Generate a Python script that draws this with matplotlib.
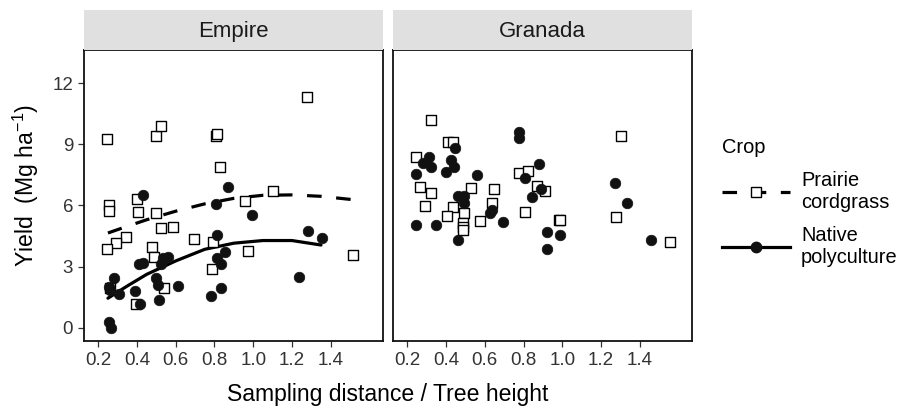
import matplotlib
matplotlib.use("Agg")
import matplotlib.pyplot as plt
from matplotlib.lines import Line2D

plt.rcParams['font.family'] = ['Liberation Sans', 'DejaVu Sans']
plt.rcParams['mathtext.fontset'] = 'custom'
plt.rcParams['mathtext.rm'] = 'Liberation Sans'
plt.rcParams['mathtext.it'] = 'Liberation Sans:italic'
plt.rcParams['lines.scale_dashes'] = False

# Empire - Prairie cordgrass (squares)
emp_pc_x = [0.246, 0.496, 0.522, 0.809, 0.814, 1.277, 0.828, 1.10, 0.959, 0.402,
            0.257, 0.257, 0.403, 0.50, 0.522, 0.587, 0.345, 0.292, 0.247, 0.478,
            0.486, 0.694, 0.79, 0.787, 0.974, 1.517, 0.541, 0.393, 0.26]
emp_pc_y = [9.27, 9.42, 9.91, 9.41, 9.53, 11.32, 7.88, 6.70, 6.24, 6.33,
            6.03, 5.73, 5.67, 5.62, 4.89, 4.94, 4.47, 4.14, 3.86, 3.98,
            3.45, 4.36, 4.20, 2.87, 3.77, 3.58, 1.97, 1.17, 1.93]
# Empire - Native polyculture (circles)
emp_np_x = [0.432, 0.868, 0.809, 0.995, 0.811, 1.281, 1.355, 0.854, 0.813, 0.836,
            1.238, 0.835, 0.782, 0.613, 0.513, 0.415, 0.390, 0.408, 0.430, 0.532,
            0.561, 0.525, 0.497, 0.510, 0.279, 0.254, 0.26, 0.307, 0.254, 0.264]
emp_np_y = [6.51, 6.91, 6.05, 5.52, 4.57, 4.77, 4.39, 3.72, 3.43, 3.12,
            2.51, 1.96, 1.57, 2.03, 1.37, 1.16, 1.80, 3.13, 3.18, 3.42,
            3.47, 3.15, 2.44, 2.10, 2.45, 2.00, 1.85, 1.64, 0.30, 0.00]

# Granada - Prairie cordgrass
gra_pc_x = [0.325, 0.411, 0.435, 1.301, 0.246, 0.774, 0.822, 0.869, 0.908, 0.265,
            0.321, 0.527, 0.649, 0.289, 0.437, 0.491, 0.406, 0.637, 0.807, 0.573,
            0.490, 0.490, 0.490, 0.983, 0.988, 1.277, 1.556]
gra_pc_y = [10.20, 9.10, 9.10, 9.43, 8.37, 7.58, 7.69, 6.97, 6.73, 6.91,
            6.61, 6.87, 6.81, 5.96, 5.93, 5.65, 5.48, 6.12, 5.68, 5.24,
            5.13, 4.96, 4.80, 5.27, 5.27, 5.45, 4.22]
# Granada - Native polyculture
gra_np_x = [0.774, 0.774, 0.447, 0.311, 0.282, 0.320, 0.246, 0.426, 0.443, 0.402,
            0.877, 0.562, 0.805, 1.271, 0.889, 0.845, 1.335, 0.462, 0.493, 0.491,
            0.637, 0.625, 0.692, 0.246, 0.347, 0.462, 0.922, 0.987, 0.922, 1.458]
gra_np_y = [9.59, 9.30, 8.82, 8.36, 8.10, 7.87, 7.56, 8.22, 7.90, 7.64,
            8.04, 7.48, 7.37, 7.10, 6.79, 6.43, 6.12, 6.48, 6.47, 6.14,
            5.78, 5.62, 5.17, 5.06, 5.03, 4.29, 4.71, 4.54, 3.85, 4.32]

# fitted curves (Empire only)
fit_pc_x = [0.25, 0.35, 0.45, 0.6, 0.75, 0.9, 1.05, 1.2, 1.35, 1.52]
fit_pc_y = [4.65, 4.98, 5.30, 5.72, 6.08, 6.35, 6.50, 6.52, 6.45, 6.28]
fit_np_x = [0.25, 0.35, 0.45, 0.6, 0.75, 0.9, 1.05, 1.2, 1.35]
fit_np_y = [1.45, 2.05, 2.62, 3.28, 3.85, 4.15, 4.28, 4.28, 4.06]

panels = ['Empire', 'Granada']
xticks = [0.2, 0.4, 0.6, 0.8, 1.0, 1.2, 1.4]
yticks = [0, 3, 6, 9, 12]

W, H = 913, 412
fig = plt.figure(figsize=(W / 100, H / 100), dpi=100)

dash = (0, (10.5, 10.5))
lw = 2.3

def panel(left, right, name, sq_x, sq_y, ci_x, ci_y, fits):
    ax = fig.add_axes([left / W, (H - 341) / H, (right - left) / W, 291 / H])
    if fits:
        ax.plot(fit_pc_x, fit_pc_y, color='black', lw=lw, ls=dash, solid_capstyle='butt')
        ax.plot(fit_np_x, fit_np_y, color='black', lw=lw, solid_capstyle='round')
    ax.scatter(sq_x, sq_y, marker='s', s=50, facecolor='white', edgecolor='black',
               linewidth=1.0, zorder=3)
    ax.scatter(ci_x, ci_y, marker='o', s=58, facecolor='#111111', edgecolor='#111111',
               linewidth=0.5, zorder=4)
    ax.set_xlim(0.128, 1.67)
    ax.set_ylim(-0.65, 13.63)
    ax.set_xticks(xticks)
    ax.set_xticklabels(['%.1f' % v for v in xticks])
    ax.set_yticks(yticks)
    for s in ax.spines.values():
        s.set_linewidth(1.3)
        s.set_color('#111111')
    ax.tick_params(direction='out', length=4, width=0.9, color='#333333',
                   labelsize=13.5, labelcolor='#333333', pad=4)
    # strip
    st = fig.add_axes([left / W, (H - 49.5) / H, (right - left) / W, 39.5 / H])
    st.set_facecolor('#e0e0e0')
    st.set_xticks([])
    st.set_yticks([])
    for s in st.spines.values():
        s.set_visible(False)
    st.text(0.5, 0.45, name, ha='center', va='center', fontsize=16, color='#1a1a1a',
            transform=st.transAxes)
    return ax

ax1 = panel(84.3, 383, panels[0], emp_pc_x, emp_pc_y, emp_np_x, emp_np_y, True)
ax2 = panel(393.3, 692.3, panels[1], gra_pc_x, gra_pc_y, gra_np_x, gra_np_y, False)
ax2.tick_params(axis='y', left=False, labelleft=False)

fig.text(388 / W, 1 - 395 / H, 'Sampling distance / Tree height', ha='center',
         va='center', fontsize=16.6)
fig.text(26 / W, 1 - 186 / H, r'Yield  (Mg ha$^{-1}$)', ha='center', va='center',
         rotation=90, fontsize=16.6)

handles = [
    Line2D([], [], color='black', lw=lw, ls=dash, marker='s', ms=7,
           mfc='white', mec='black', mew=1.0),
    Line2D([], [], color='black', lw=lw, marker='o', ms=7.5,
           mfc='#111111', mec='#111111'),
]
leg = fig.legend(handles, ['Prairie\ncordgrass', 'Native\npolyculture'], title='Crop',
                 loc='upper left', bbox_to_anchor=(704 / W, 1 - 120 / H), frameon=False,
                 fontsize=14.4, title_fontsize=14.4, handlelength=3.4, handletextpad=0.55,
                 labelspacing=0.7, alignment='left')

fig.savefig('out.png', dpi=100)
